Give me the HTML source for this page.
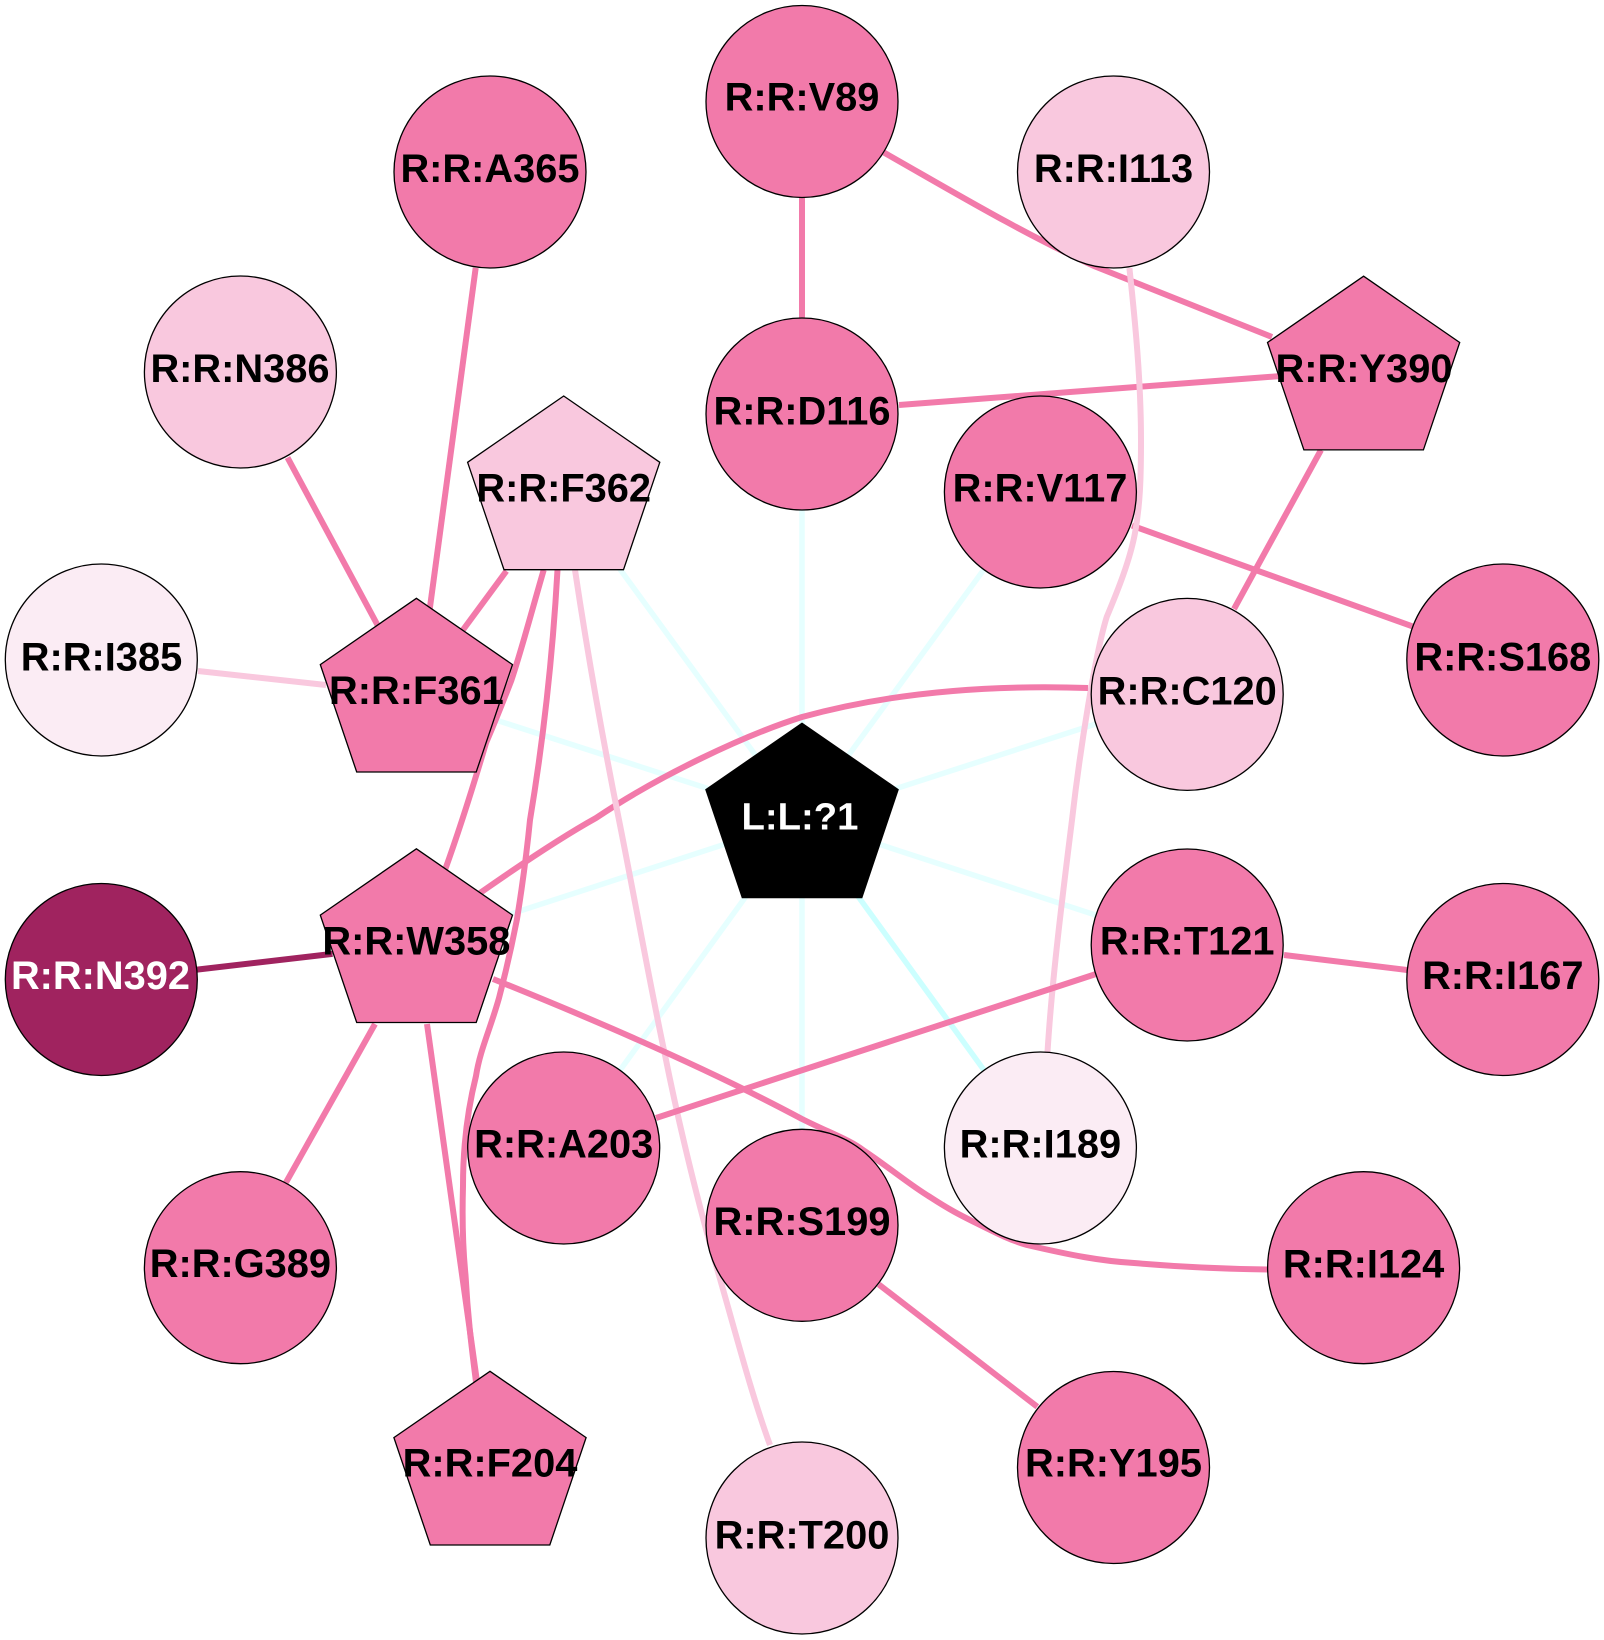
<!DOCTYPE html>
<html><head><meta charset="utf-8"><style>
html,body{margin:0;padding:0;background:#fff}
svg{display:block}
text{font-family:"Liberation Sans",Arial,sans-serif;font-weight:bold;font-size:39.8px;text-anchor:middle;fill:#000}
.c{fill:none;stroke-width:5.5;stroke:#e6ffff}
.p{fill:none;stroke-width:6;stroke:#f27aaa}
.l{fill:none;stroke-width:6;stroke:#f9c8de}
.n{stroke:#000;stroke-width:1.3}
.m{fill:#f27aaa}.t{fill:#f9c8de}.v{fill:#fbecf4}
</style></head><body>
<svg width="1604" height="1640" viewBox="0 0 1604 1640" xmlns="http://www.w3.org/2000/svg">
<rect width="1604" height="1640" fill="#fff"/>
<path class="c" d="M802,819L802,414M802,819L1040.4,492M802,819L1187.2,694.4M802,819L563.7,492M802,819L416.4,694.3M802,819L416.4,944.8M802,819L1187.2,945M802,819L563.7,1148M802,819L802,1225"/>
<path class="c" style="stroke:#ccffff" d="M802,819L1040.4,1148"/>
<path class="p" d="M802,101V414"/>
<path class="p" d="M883,152C950,190 1020,232 1094,266L1272,337"/>
<path class="p" d="M899,405L1281,376"/>
<path class="p" d="M1132,525.6L1413,626.6"/>
<path class="p" d="M1321,450L1234,609"/>
<path class="l" d="M1129.4,268C1135,320 1141,380 1141,440C1141,480 1140,505 1135,533C1130,560 1118,590 1106.7,617C1095,655 1080,750 1072,820C1062,900 1052,980 1047.5,1052"/>
<path class="p" d="M1088,688C1000,685 900,690 802,717C745,735 660,775 596,818C560,838 520,865 480,893"/>
<path class="p" d="M506.4,571L462.9,630"/>
<path class="p" d="M543.7,570C532,610 523,645 511.5,680C503,702 495,722 486,743C478,770 463,820 445,870"/>
<path class="p" d="M557.5,570C553,650 545,730 530,820C525,870 520,900 517,919C510,955 505,975 499,998C490,1030 480,1050 476,1076C465,1120 463,1160 463,1186C462,1220 463,1250 465.5,1275C468,1320 472,1350 476,1382"/>
<path class="l" d="M575,570C590,670 605,750 619,820C635,900 650,985 665,1055C680,1130 700,1210 716,1265C735,1330 750,1390 770,1445"/>
<path class="p" d="M287.5,457.6L377.5,625"/>
<path class="p" d="M475.7,267.8L429.7,609.3"/>
<path class="l" d="M198,671L326,685"/>
<path class="p" style="stroke:#a0235f" d="M197,969.6L332.5,953.9"/>
<path class="p" d="M375,1024L285.4,1183.5"/>
<path class="p" d="M427,1024L476.7,1379.6"/>
<path class="p" d="M493,979C620,1030 720,1075 802,1119C830,1133 850,1140 863,1150C890,1168 910,1185 930,1197C950,1210 960,1215 976,1223C1000,1235 1010,1240 1027,1245C1070,1255 1100,1261 1134,1263C1180,1267 1230,1269 1268,1269.5"/>
<path class="p" d="M656,1118L1096,974"/>
<path class="p" d="M1284,955L1407,970"/>
<path class="p" d="M878.7,1284.4L1037.3,1406.8"/>

<circle class="n m" cx="490" cy="172" r="96"/><text x="490" y="182">R:R:A365</text>
<circle class="n m" cx="802" cy="101.5" r="96"/><text x="802" y="110.5">R:R:V89</text>
<circle class="n t" cx="1113.5" cy="172" r="96"/><text x="1113.5" y="182">R:R:I113</text>
<circle class="n t" cx="240.4" cy="372" r="96"/><text x="240" y="382">R:R:N386</text>
<circle class="n m" cx="802" cy="414" r="96"/><text x="802" y="424.5">R:R:D116</text>
<circle class="n m" cx="1040.4" cy="492" r="96"/><text x="1040" y="501.5">R:R:V117</text>
<circle class="n v" cx="101.3" cy="660" r="96"/><text x="101.5" y="670.5">R:R:I385</text>
<circle class="n m" cx="1502.8" cy="660" r="96"/><text x="1502.8" y="670.5">R:R:S168</text>
<circle class="n t" cx="1187.2" cy="694.4" r="96"/><text x="1187.2" y="704.5">R:R:C120</text>
<circle class="n m" cx="1187.2" cy="945" r="96"/><text x="1187.2" y="954.5">R:R:T121</text>
<circle class="n" style="fill:#a0235f" cx="101.3" cy="979.5" r="96"/><text x="100.5" y="989" style="fill:#fff">R:R:N392</text>
<circle class="n m" cx="1502.8" cy="979.5" r="96"/><text x="1502.8" y="989">R:R:I167</text>
<circle class="n m" cx="563.7" cy="1148" r="96"/><text x="563.7" y="1157.5">R:R:A203</text>
<circle class="n v" cx="1040.4" cy="1148" r="96"/><text x="1040.4" y="1157.5">R:R:I189</text>
<circle class="n m" cx="802" cy="1225.3" r="96"/><text x="802" y="1234.8">R:R:S199</text>
<circle class="n m" cx="240.4" cy="1267.7" r="96"/><text x="240.4" y="1277">R:R:G389</text>
<circle class="n m" cx="1363.6" cy="1267.7" r="96"/><text x="1363.6" y="1277.5">R:R:I124</text>
<circle class="n m" cx="1113.5" cy="1467.5" r="96"/><text x="1113.5" y="1476.5">R:R:Y195</text>
<circle class="n t" cx="802" cy="1538" r="96"/><text x="802" y="1548.5">R:R:T200</text>

<polygon class="n t" points="563.7,396 659.8,462.3 623.5,569.7 504,569.7 467.6,462.3"/><text x="563.7" y="501.5">R:R:F362</text>
<polygon class="n m" points="416.4,598.3 512.5,664.6 476.2,772 356.7,772 320.3,664.6"/><text x="416.4" y="704">R:R:F361</text>
<polygon class="n m" points="1363.6,276.2 1459.7,342.5 1423.4,449.9 1303.9,449.9 1267.5,342.5"/><text x="1364" y="382">R:R:Y390</text>
<polygon class="n m" points="416.4,848.8 512.5,915.1 476.2,1022.5 356.7,1022.5 320.3,915.1"/><text x="416.4" y="954.5">R:R:W358</text>
<polygon class="n m" points="490,1371.3 586.1,1437.6 549.8,1545 430.3,1545 393.9,1437.6"/><text x="490" y="1476.5">R:R:F204</text>
<polygon style="fill:#000" class="n" points="802,723.3 898.1,789.6 861.8,897.6 742.3,897.6 705.9,789.6"/><text x="800" y="829.5" style="fill:#fff;font-size:38.3px">L:L:?1</text>
</svg>
</body></html>
